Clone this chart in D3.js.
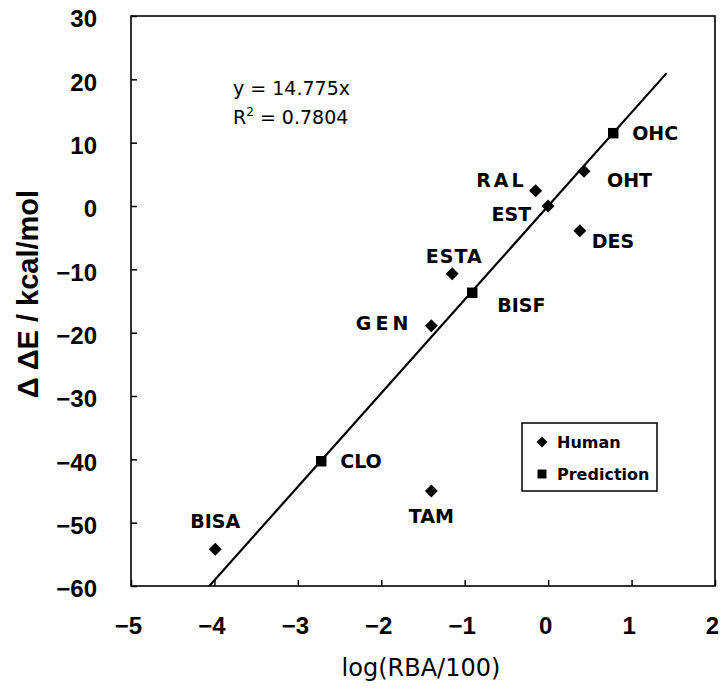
<!DOCTYPE html>
<html>
<head>
<meta charset="utf-8">
<script src="https://cdn.jsdelivr.net/npm/d3@7"></script>
<style>
  html, body { margin: 0; padding: 0; background: #fff; }
  svg { display: block; }
</style>
</head>
<body>
<svg id="chart" width="724" height="688"></svg>
<script>
// ---------- data ----------
const names  = ["OHC", "OHT", "RAL", "EST", "DES", "ESTA", "BISF", "GEN", "CLO", "TAM", "BISA"];
const logRBA = [0.78, 0.43, -0.15, 0.0, 0.38, -1.15, -0.91, -1.40, -2.72, -1.40, -3.99];
const dE     = [11.5, 5.5, 2.4, 0.0, -3.9, -10.7, -13.7, -18.9, -40.3, -45.0, -54.2];
const series = ["Prediction", "Human", "Human", "Human", "Human", "Human", "Prediction", "Human", "Prediction", "Human", "Human"];
const legendItems = ["Human", "Prediction"];
const xTicks = [-5, -4, -3, -2, -1, 0, 1, 2];
const yTicks = [30, 20, 10, 0, -10, -20, -30, -40, -50, -60];
const slope = 14.775;
const r2 = 0.7804;
const fitRange = [-60 / 14.775, 1.42];

// ---------- layout (label placement, not data) ----------
const labelPos = {
  OHC:  {dx: 19, dy: 7,   anchor: "start"},
  OHT:  {dx: 23, dy: 16,  anchor: "start"},
  RAL:  {dx: -9, dy: -4,  anchor: "end", ls: 3},
  EST:  {dx: -17, dy: 15, anchor: "end"},
  DES:  {dx: 12, dy: 17,  anchor: "start"},
  ESTA: {dx: 2, dy: -11,  anchor: "middle", ls: 1},
  BISF: {dx: 25, dy: 19,  anchor: "start"},
  GEN:  {dx: -19, dy: 4,  anchor: "end", ls: 4},
  CLO:  {dx: 19, dy: 7,   anchor: "start"},
  TAM:  {dx: 0, dy: 32,   anchor: "middle"},
  BISA: {dx: 0, dy: -21,  anchor: "middle"}
};

const svg = d3.select("#chart");
const L = 131, R = 715, T = 16, B = 586;

const x = d3.scaleLinear().domain([-5, 2]).range([L, R]);
const y = d3.scaleLinear().domain([-60, 30]).range([B, T]);

// custom diamond symbol (square rotated 45deg)
const diamond = {
  draw(ctx, size) {
    const h = Math.sqrt(size / 2);
    ctx.moveTo(0, -h); ctx.lineTo(h, 0); ctx.lineTo(0, h); ctx.lineTo(-h, 0); ctx.closePath();
  }
};
const symType = s => s === "Human" ? diamond : d3.symbolSquare;
const symSize = s => s === "Human" ? 84 : 110;

// axes
const tickFont = "'Liberation Sans', Arial, sans-serif";
const fmt = d3.format("d");
const xAxis = svg.append("g").attr("transform", `translate(0,${B})`)
  .call(d3.axisBottom(x).tickValues(xTicks).tickFormat(fmt).tickSizeInner(-6).tickSizeOuter(0).tickPadding(31));
const yAxis = svg.append("g").attr("transform", `translate(${L},0)`)
  .call(d3.axisLeft(y).tickValues(yTicks).tickFormat(fmt).tickSizeInner(-6).tickSizeOuter(0).tickPadding(34));
[xAxis, yAxis].forEach(g => {
  g.select(".domain").remove();
  g.selectAll(".tick line").attr("stroke", "#000").attr("stroke-width", 1.5);
  g.selectAll(".tick text").attr("fill", "#000")
    .style("font-family", tickFont).style("font-size", "24px").style("font-weight", "bold");
});
yAxis.selectAll(".tick text").attr("dy", "0.45em");
xAxis.selectAll(".tick text").attr("dx", -3);

// frame
svg.append("rect").attr("x", L).attr("y", T).attr("width", R - L).attr("height", B - T)
  .attr("fill", "none").attr("stroke", "#000").attr("stroke-width", 1.6);

// regression line
svg.append("line")
  .attr("x1", x(fitRange[0])).attr("y1", y(slope * fitRange[0]))
  .attr("x2", x(fitRange[1])).attr("y2", y(slope * fitRange[1]))
  .attr("stroke", "#000").attr("stroke-width", 2.2);

// points
const pts = names.map((n, i) => ({name: n, x: logRBA[i], y: dE[i], s: series[i]}));
svg.append("g").selectAll("path").data(pts).join("path")
  .attr("transform", d => `translate(${x(d.x)},${y(d.y)})`)
  .attr("d", d => d3.symbol().type(symType(d.s)).size(symSize(d.s))())
  .attr("fill", "#000");

// point labels
const labelFont = "'DejaVu Sans', sans-serif";
svg.append("g").selectAll("text").data(pts).join("text")
  .attr("x", d => x(d.x) + labelPos[d.name].dx)
  .attr("y", d => y(d.y) + labelPos[d.name].dy)
  .attr("text-anchor", d => labelPos[d.name].anchor)
  .style("letter-spacing", d => (labelPos[d.name].ls || 0) + "px")
  .style("font-family", labelFont).style("font-size", "19px").style("font-weight", "bold")
  .text(d => d.name);

// equation
const eq = svg.append("g").style("font-family", labelFont).style("font-size", "19px");
eq.append("text").attr("x", 233).attr("y", 95).text(`y = ${slope}x`);
const r2t = eq.append("text").attr("x", 233).attr("y", 124);
r2t.append("tspan").text("R");
r2t.append("tspan").attr("dy", -8).style("font-size", "12px").text("2");
r2t.append("tspan").attr("dy", 8).text(` = ${r2}`);

// legend
const lg = svg.append("g");
lg.append("rect").attr("x", 522).attr("y", 423).attr("width", 135).attr("height", 68)
  .attr("fill", "#fff").attr("stroke", "#000").attr("stroke-width", 1.5);
legendItems.forEach((s, i) => {
  const cy = 442 + i * 32;
  lg.append("path").attr("transform", `translate(542,${cy})`)
    .attr("d", d3.symbol().type(symType(s)).size(s === "Human" ? 60 : 80)())
    .attr("fill", "#000");
  lg.append("text").attr("x", 557).attr("y", cy + 6)
    .style("font-family", labelFont).style("font-size", "16px").style("font-weight", "bold")
    .text(s);
});

// axis titles
svg.append("text").attr("x", 421).attr("y", 676).attr("text-anchor", "middle")
  .style("font-family", labelFont).style("font-size", "24px")
  .text("log(RBA/100)");
svg.append("text")
  .attr("transform", "translate(28,294) rotate(-90)")
  .attr("text-anchor", "middle").attr("dominant-baseline", "central")
  .style("font-family", tickFont).style("font-size", "29px").style("font-weight", "bold")
  .text("Δ ΔE / kcal/mol");
</script>
</body>
</html>
